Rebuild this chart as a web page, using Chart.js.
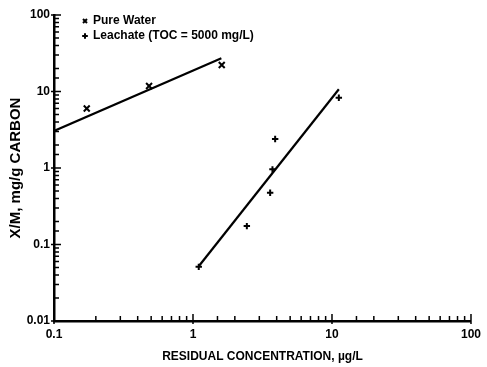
<!DOCTYPE html>
<html>
<head>
<meta charset="utf-8">
<script src="https://cdn.jsdelivr.net/npm/chart.js@4/dist/chart.umd.min.js"></script>
<style>
  html, body { margin: 0; padding: 0; background: #fff; }
  #chart { display: block; }
</style>
</head>
<body>
<canvas id="chart" width="487" height="367"></canvas>
<script>
// Adsorption data, X/M (mg/g carbon) against residual concentration (ug/L)
const pureWaterConc = [0.172, 0.483, 1.61];
const pureWaterXM = [6.0, 11.8, 22.2];

const leachateConc = [1.10, 2.44, 3.59, 3.73, 3.90, 11.2];
const leachateXM = [0.051, 0.174, 0.475, 0.96, 2.39, 8.3];

// End points of the fitted isotherm lines
const pureWaterFitConc = [0.1, 1.6];
const pureWaterFitXM = [3.05, 27.2];
const leachateFitConc = [1.10, 11.2];
const leachateFitXM = [0.052, 10.7];

const seriesLabels = ['Pure Water', 'Leachate (TOC = 5000 mg/L)'];
const xTitle = 'RESIDUAL CONCENTRATION, \u00b5g/L';
const yTitle = 'X/M, mg/g CARBON';

const FAMILY = '"Liberation Sans", Arial, Helvetica, sans-serif';
const FONT = { family: FAMILY, size: 12, weight: 'bold' };

function toPoints(xs, ys) {
    return xs.map((x, i) => ({ x: x, y: ys[i] }));
}

function isDecade(v) {
    const l = Math.log10(v);
    return Math.abs(l - Math.round(l)) < 1e-6;
}

// Tick marks drawn inward from the axis lines, longer at each decade
const inwardTicks = {
    id: 'inwardTicks',
    afterDraw(chart) {
        const ctx = chart.ctx;
        const area = chart.chartArea;
        ctx.save();
        ctx.strokeStyle = '#000';
        ctx.lineWidth = 1.5;
        ctx.beginPath();
        chart.scales.x.ticks.forEach(t => {
            const px = chart.scales.x.getPixelForValue(t.value);
            const major = isDecade(t.value);
            ctx.moveTo(px, area.bottom + (major ? 3 : 0));
            ctx.lineTo(px, area.bottom - (major ? 7 : 5));
        });
        chart.scales.y.ticks.forEach(t => {
            const py = chart.scales.y.getPixelForValue(t.value);
            const major = isDecade(t.value);
            ctx.moveTo(area.left - (major ? 3 : 0), py);
            ctx.lineTo(area.left + (major ? 7 : 5), py);
        });
        ctx.stroke();
        ctx.restore();
    }
};

// Moves the legend block in from the corner of the plot
const legendNudge = {
    id: 'legendNudge',
    afterLayout(chart) {
        chart.legend.left += 26;
        chart.legend.top += 12;
    }
};

function logAxis(min, max, title, pad) {
    return {
        type: 'logarithmic',
        min: min,
        max: max,
        grid: { display: true, drawOnChartArea: false, drawTicks: false, color: '#000' },
        border: { display: true, color: '#000', width: 2.5 },
        ticks: {
            autoSkip: false,
            maxRotation: 0,
            color: '#000',
            font: FONT,
            padding: pad,
            callback: function(value) {
                return isDecade(value) ? String(value) : '';
            }
        },
        title: { display: true, text: title, color: '#000', font: FONT }
    };
}

const xAxis = logAxis(0.1, 100, xTitle, 6);
xAxis.title.padding = { top: 0, bottom: 3 };
xAxis.afterFit = function(scale) { scale.height = 46; };

const yAxis = logAxis(0.01, 100, yTitle, 4);
yAxis.title.font = { family: FAMILY, size: 15, weight: 'bold' };
yAxis.title.padding = { top: 7, bottom: 0 };
yAxis.afterFit = function(scale) { scale.width = 54; };

new Chart(document.getElementById('chart'), {
    type: 'scatter',
    data: {
        datasets: [{
            label: seriesLabels[0],
            data: toPoints(pureWaterConc, pureWaterXM),
            pointStyle: 'crossRot',
            pointRadius: 4.2,
            borderColor: '#000',
            backgroundColor: '#000',
            borderWidth: 2
        }, {
            label: seriesLabels[1],
            data: toPoints(leachateConc, leachateXM),
            pointStyle: 'cross',
            pointRadius: 3.2,
            borderColor: '#000',
            backgroundColor: '#000',
            borderWidth: 2
        }, {
            label: 'fit1',
            data: toPoints(pureWaterFitConc, pureWaterFitXM),
            showLine: true,
            pointRadius: 0,
            borderColor: '#000',
            borderWidth: 2.2
        }, {
            label: 'fit2',
            data: toPoints(leachateFitConc, leachateFitXM),
            showLine: true,
            pointRadius: 0,
            borderColor: '#000',
            borderWidth: 2.2
        }]
    },
    options: {
        responsive: false,
        animation: false,
        layout: { padding: { left: 0, right: 12, top: 15, bottom: 0 } },
        scales: { x: xAxis, y: yAxis },
        plugins: {
            tooltip: { enabled: false },
            legend: {
                position: 'chartArea',
                align: 'start',
                labels: {
                    color: '#000',
                    font: FONT,
                    usePointStyle: true,
                    boxWidth: 4,
                    boxHeight: 4,
                    padding: 3,
                    filter: item => item.datasetIndex < 2
                }
            }
        }
    },
    plugins: [inwardTicks, legendNudge]
});
</script>
</body>
</html>
